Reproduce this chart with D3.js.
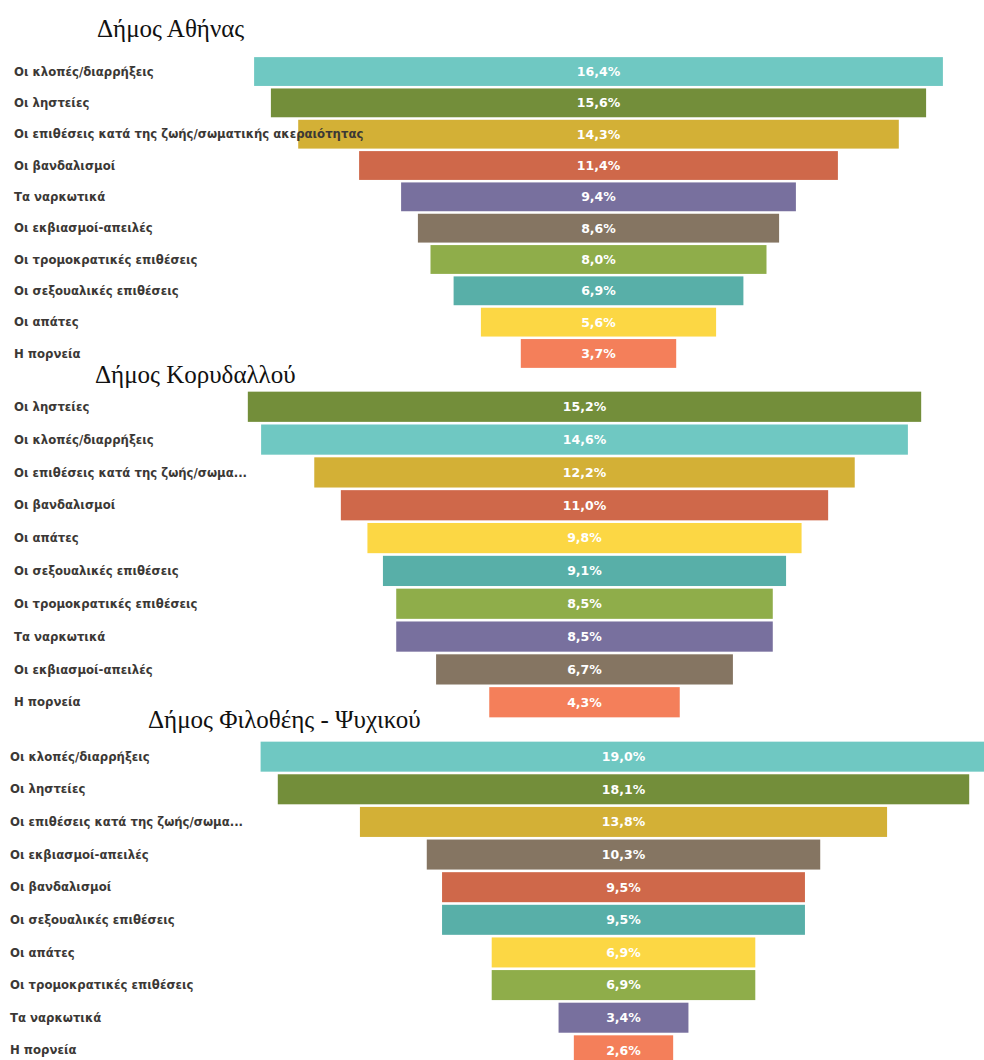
<!DOCTYPE html>
<html>
<head>
<meta charset="utf-8">
<script src="https://cdn.jsdelivr.net/npm/d3@7"></script>
<style>
  body { margin: 0; background: #fff; }
  svg { display: block; }
</style>
</head>
<body>
<script>
// data
const athensCats = ["Οι κλοπές/διαρρήξεις", "Οι ληστείες", "Οι επιθέσεις κατά της ζωής/σωματικής ακεραιότητας",
  "Οι βανδαλισμοί", "Τα ναρκωτικά", "Οι εκβιασμοί-απειλές", "Οι τρομοκρατικές επιθέσεις",
  "Οι σεξουαλικές επιθέσεις", "Οι απάτες", "Η πορνεία"];
const athensVals = [16.4, 15.6, 14.3, 11.4, 9.4, 8.6, 8.0, 6.9, 5.6, 3.7];

const korydallosCats = ["Οι ληστείες", "Οι κλοπές/διαρρήξεις", "Οι επιθέσεις κατά της ζωής/σωμα...",
  "Οι βανδαλισμοί", "Οι απάτες", "Οι σεξουαλικές επιθέσεις", "Οι τρομοκρατικές επιθέσεις",
  "Τα ναρκωτικά", "Οι εκβιασμοί-απειλές", "Η πορνεία"];
const korydallosVals = [15.2, 14.6, 12.2, 11.0, 9.8, 9.1, 8.5, 8.5, 6.7, 4.3];

const filotheiCats = ["Οι κλοπές/διαρρήξεις", "Οι ληστείες", "Οι επιθέσεις κατά της ζωής/σωμα...",
  "Οι εκβιασμοί-απειλές", "Οι βανδαλισμοί", "Οι σεξουαλικές επιθέσεις", "Οι απάτες",
  "Οι τρομοκρατικές επιθέσεις", "Τα ναρκωτικά", "Η πορνεία"];
const filotheiVals = [19.0, 18.1, 13.8, 10.3, 9.5, 9.5, 6.9, 6.9, 3.4, 2.6];

// colour per crime type
const crimeKeys = ["κλοπές", "ληστείες", "επιθέσεις κατά", "βανδαλισμοί", "ναρκωτικά",
  "εκβιασμοί", "τρομοκρατικές", "σεξουαλικές", "απάτες", "πορνεία"];
const crimeColors = ["#6fc8c2", "#738e3a", "#d3b036", "#cf684a", "#78709e",
  "#857562", "#8fad4a", "#58afa8", "#fcd744", "#f47f5a"];

// layout parameters
const width = 984;
const height = 1060;

const charts = [
  { title: "Δήμος Αθήνας", titleX: 97, titleY: 37, cats: athensCats, vals: athensVals,
    labelX: 14, center: 598.5, perUnit: 42.0, top: 56.5, bottom: 368.5 },
  { title: "Δήμος Κορυδαλλού", titleX: 95, titleY: 383, cats: korydallosCats, vals: korydallosVals,
    labelX: 14, center: 584.5, perUnit: 44.3, top: 391, bottom: 718 },
  { title: "Δήμος Φιλοθέης - Ψυχικού", titleX: 148, titleY: 728, cats: filotheiCats, vals: filotheiVals,
    labelX: 10, center: 623.5, perUnit: 38.2, top: 741, bottom: 1066 }
];

function colorFor(cat) {
  const i = crimeKeys.findIndex(function(k) { return cat.indexOf(k) >= 0; });
  return crimeColors[i];
}

const svg = d3.select("body").append("svg")
  .attr("width", width)
  .attr("height", height);

charts.forEach(function(c) {
  const data = c.cats.map(function(cat, i) { return { cat: cat, val: c.vals[i] }; });

  const yScale = d3.scaleBand()
    .domain(c.cats)
    .range([c.top, c.bottom])
    .paddingInner(0.08)
    .paddingOuter(0.02);

  const wScale = d3.scaleLinear()
    .domain([0, 1])
    .range([0, c.perUnit]);

  const g = svg.append("g");

  g.selectAll(".bar")
    .data(data)
    .enter()
    .append("rect")
    .attr("class", "bar")
    .attr("x", function(d) { return c.center - wScale(d.val) / 2; })
    .attr("y", function(d) { return yScale(d.cat); })
    .attr("width", function(d) { return wScale(d.val); })
    .attr("height", yScale.bandwidth())
    .attr("fill", function(d) { return colorFor(d.cat); });

  g.selectAll(".cat")
    .data(data)
    .enter()
    .append("text")
    .attr("class", "cat")
    .attr("x", c.labelX)
    .attr("y", function(d) { return yScale(d.cat) + yScale.bandwidth() / 2; })
    .attr("dy", "0.35em")
    .attr("font-family", "'DejaVu Sans', Verdana, sans-serif")
    .attr("font-weight", "bold")
    .attr("font-size", "11.7px")
    .attr("fill", "#3b3835")
    .text(function(d) { return d.cat; });

  g.selectAll(".val")
    .data(data)
    .enter()
    .append("text")
    .attr("class", "val")
    .attr("x", c.center)
    .attr("y", function(d) { return yScale(d.cat) + yScale.bandwidth() / 2; })
    .attr("dy", "0.35em")
    .attr("text-anchor", "middle")
    .attr("font-family", "'DejaVu Sans', Verdana, sans-serif")
    .attr("font-weight", "bold")
    .attr("font-size", "12.5px")
    .attr("fill", "#ffffff")
    .text(function(d) { return d3.format(".1f")(d.val).replace(".", ",") + "%"; });

  svg.append("text")
    .attr("x", c.titleX)
    .attr("y", c.titleY)
    .attr("font-family", "'Liberation Serif', 'Times New Roman', serif")
    .attr("font-size", "25px")
    .attr("fill", "#111")
    .text(c.title);
});
</script>
</body>
</html>
